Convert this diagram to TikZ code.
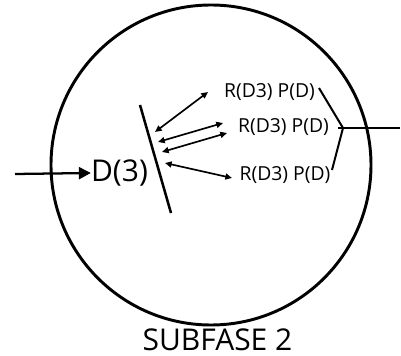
\documentclass[tikz,border=0pt]{standalone}
\usepackage{fontspec}
\setmainfont{Open Sans}
\usetikzlibrary{arrows.meta,calc}
\tikzset{
  lbl/.style={inner sep=0pt, font=\fontsize{14.5}{16}\selectfont},
  big/.style={inner sep=0pt, font=\fontsize{22.5}{26}\selectfont},
  arr/.style={-{Triangle[length=9pt,width=9pt]}, line width=1.7pt},
  darr/.style={{Triangle[length=5pt,width=4.5pt]}-{Triangle[length=5pt,width=4.5pt]}, line width=1.25pt},
  wire/.style={line width=1.5pt}
}
\begin{document}
\begin{tikzpicture}[x=0.75pt, y=-0.75pt]
\useasboundingbox (0,0) rectangle (401,356);
\node[circle, draw, line width=2.2pt, minimum size=240pt, inner sep=0pt] (fase) at (211,165) {};
\node[big] (d3) at (119.5,173) {D(3)};
\node[big] (title) at (217.5,340) {SUBFASE 2};
\node[lbl] (r1) at (269.5,92) {R(D3) P(D)};
\node[lbl] (r2) at (283.5,127.5) {R(D3) P(D)};
\node[lbl] (r3) at (285,175) {R(D3) P(D)};
% input and barrier
\coordinate (in) at (15,174);
\draw[arr] (in) -- (d3.west);
\coordinate (bt) at (140,105);
\coordinate (bb) at (171,213);
\draw[line width=1.9pt] (bt) -- (bb);
% arrows to the labels
\coordinate (a1) at (155,132); \coordinate (b1) at (208,92);
\coordinate (a2) at (158,142); \coordinate (b2) at (223,123);
\coordinate (a3) at (162,152); \coordinate (b3) at (227,133);
\coordinate (a4) at (165,163); \coordinate (b4) at (232,178);
\draw[darr] (a1) -- (b1);
\draw[darr] (a2) -- (b2);
\draw[darr] (a3) -- (b3);
\draw[darr] (a4) -- (b4);
% bracket to the output
\coordinate (k1) at (319,88);
\coordinate (k3) at (332,170);
\coordinate (join) at (343,128);
\coordinate (out) at (400,128);
\draw[wire] (k1) -- (join) -- (k3);
\draw[line width=1.9pt] ($(join)+(-5,0)$) -- (out);
\end{tikzpicture}
\end{document}
